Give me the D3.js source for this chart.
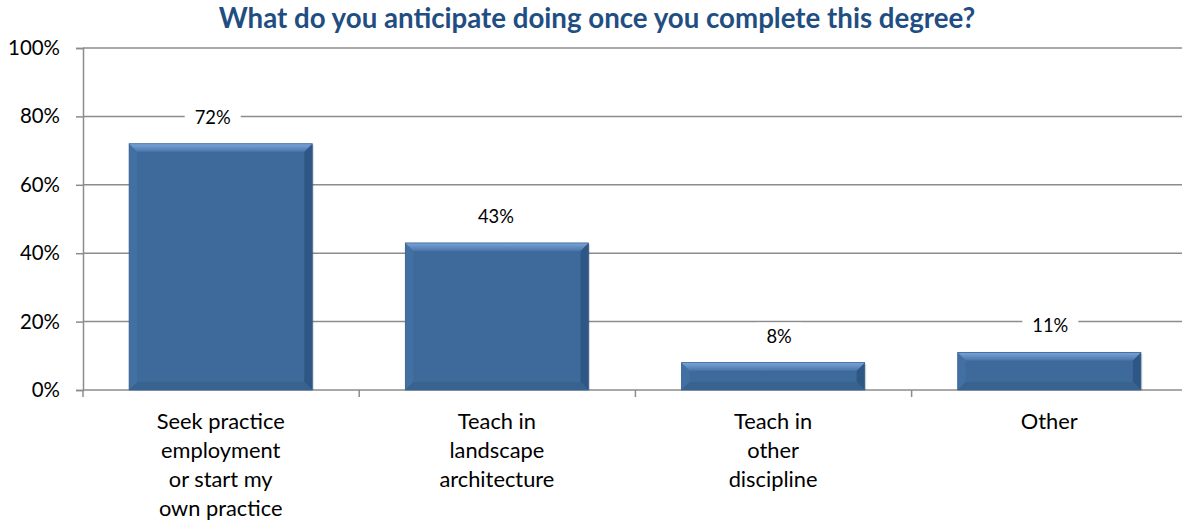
<!DOCTYPE html>
<html>
<head>
<meta charset="utf-8">
<script src="https://cdn.jsdelivr.net/npm/d3@7"></script>
<style>
  html, body { margin: 0; padding: 0; background: #ffffff; }
  svg { display: block; }
  text { font-family: Lato, "Open Sans", sans-serif; fill: #000; }
</style>
</head>
<body>
<svg id="chart" width="1182" height="525"></svg>
<script>
// Survey answers
const categories = [
  ["Seek practice", "employment", "or start my", "own practice"],
  ["Teach in", "landscape", "architecture"],
  ["Teach in", "other", "discipline"],
  ["Other"]
];
const values = [72, 43, 8, 11];
const yTicks = [0, 20, 40, 60, 80, 100];
const title = "What do you anticipate doing once you complete this degree?";

const W = 1182, H = 525;
const FONT = "Lato, 'Open Sans', sans-serif";
const margin = { left: 83, top: 48, bottom: 135 };
const plotRight = 83 + 4 * 276;
// hand-placed horizontal offsets of the value labels
const labelShift = [-8, -1, 6, 1];
const svg = d3.select("#chart");

// font size that gives a string a wanted width
function fitSize(str, width, weight) {
  const t = svg.append("text").attr("font-family", FONT)
    .attr("font-weight", weight || "normal").attr("font-size", 100).text(str);
  const w = t.node().getComputedTextLength();
  t.remove();
  return 100 * width / w;
}
const tickSize = fitSize("100%", 52);
const catSize = fitSize("Seek practice", 128);
const valSize = fitSize("72%", 36);
const titleSize = fitSize(title, 757, "bold");

const x = d3.scaleBand()
  .domain(d3.range(categories.length))
  .range([margin.left, plotRight])
  .paddingInner(0.337)
  .paddingOuter(0.167);

const y = d3.scaleLinear()
  .domain([0, 100])
  .range([H - margin.bottom, margin.top]);

const gridColor = "#8c8c8c";

// gradients for the bevelled bars
const defs = svg.append("defs");
const gTop = defs.append("linearGradient").attr("id", "bevelTop")
  .attr("x1", 0).attr("y1", 0).attr("x2", 0).attr("y2", 1);
gTop.append("stop").attr("offset", "0%").attr("stop-color", "#7aa5da");
gTop.append("stop").attr("offset", "100%").attr("stop-color", "#4a77ab");

// horizontal gridlines
svg.append("g")
  .selectAll("line")
  .data(yTicks.filter(d => d > 0))
  .join("line")
  .attr("x1", margin.left).attr("x2", plotRight)
  .attr("y1", d => y(d)).attr("y2", d => y(d))
  .attr("stroke", gridColor).attr("stroke-width", 1.5);

// y axis
const yAxis = svg.append("g")
  .attr("transform", `translate(${margin.left},0)`)
  .call(d3.axisLeft(y).tickValues(yTicks).tickFormat(d => d + "%").tickSize(7).tickPadding(16));
yAxis.select(".domain").attr("stroke", gridColor).attr("stroke-width", 1.5);
yAxis.selectAll(".tick line").attr("stroke", gridColor).attr("stroke-width", 1.5);
yAxis.selectAll(".tick text")
  .attr("font-size", tickSize)
  .attr("font-family", FONT)
  .attr("fill", "#000");

// x axis baseline and category separators
const step = x.step();
const sepX = d3.range(categories.length).map(i => margin.left + i * step);
const xBase = svg.append("g");
xBase.append("line")
  .attr("x1", margin.left).attr("x2", plotRight)
  .attr("y1", y(0)).attr("y2", y(0))
  .attr("stroke", gridColor).attr("stroke-width", 1.5);
xBase.selectAll("line.sep")
  .data(sepX)
  .join("line").attr("class", "sep")
  .attr("x1", d => d).attr("x2", d => d)
  .attr("y1", y(0)).attr("y2", y(0) + 7)
  .attr("stroke", gridColor).attr("stroke-width", 1.5);

// bars with a bevelled edge
const bars = svg.append("g");
values.forEach((v, i) => {
  const x0 = x(i), x1 = x(i) + x.bandwidth();
  const y0 = y(v), y1 = y(0);
  const b = Math.min(8, (y1 - y0) / 3);
  const g = bars.append("g");
  // soft shadow
  g.append("rect")
    .attr("x", x0 + 1.5).attr("y", y0 + 1.5)
    .attr("width", x1 - x0).attr("height", y1 - y0 - 1.5)
    .attr("fill", "#000").attr("opacity", 0.15);
  g.append("rect")
    .attr("x", x0).attr("y", y0).attr("width", x1 - x0).attr("height", y1 - y0)
    .attr("fill", "#3e6a9b");
  const poly = (pts, fill) => g.append("polygon")
    .attr("points", pts.map(p => p.join(",")).join(" "))
    .attr("fill", fill);
  // left face
  poly([[x0, y0], [x0 + b, y0 + b], [x0 + b, y1 - b], [x0, y1]], "#4370a2");
  // right face
  poly([[x1, y0], [x1 - b, y0 + b], [x1 - b, y1 - b], [x1, y1]], "#2f5785");
  // bottom face
  poly([[x0, y1], [x0 + b, y1 - b], [x1 - b, y1 - b], [x1, y1]], "#38638f");
  // top face
  poly([[x0, y0], [x1, y0], [x1 - b, y0 + b], [x0 + b, y0 + b]], "url(#bevelTop)");
  g.append("rect")
    .attr("x", x0).attr("y", y0).attr("width", x1 - x0).attr("height", y1 - y0)
    .attr("fill", "none").attr("stroke", "#3a6392").attr("stroke-width", 0.8);
});

// value labels on a white ground
const labels = svg.append("g");
values.forEach((v, i) => {
  const cx = x(i) + x.bandwidth() / 2 + labelShift[i];
  const ty = y(v) - 20;
  const t = labels.append("text")
    .attr("x", cx).attr("y", ty)
    .attr("text-anchor", "middle")
    .attr("font-size", valSize)
    .text(v + "%");
  const bb = t.node().getBBox();
  labels.insert("rect", "text")
    .attr("x", bb.x - 10).attr("y", bb.y - 2)
    .attr("width", bb.width + 20).attr("height", bb.height + 4)
    .attr("fill", "#fff");
});

// category labels
const cat = svg.append("g");
categories.forEach((lines, i) => {
  const cx = x(i) + x.bandwidth() / 2;
  const t = cat.append("text")
    .attr("x", cx).attr("y", y(0) + 39)
    .attr("text-anchor", "middle")
    .attr("font-size", catSize);
  lines.forEach((ln, k) => {
    t.append("tspan").attr("x", cx).attr("dy", k === 0 ? 0 : 29).text(ln);
  });
});

// title
svg.append("text")
  .attr("x", 597).attr("y", 28)
  .attr("text-anchor", "middle")
  .attr("font-weight", "bold")
  .attr("font-size", titleSize)
  .style("fill", "#1f4e82")
  .text(title);
</script>
</body>
</html>
